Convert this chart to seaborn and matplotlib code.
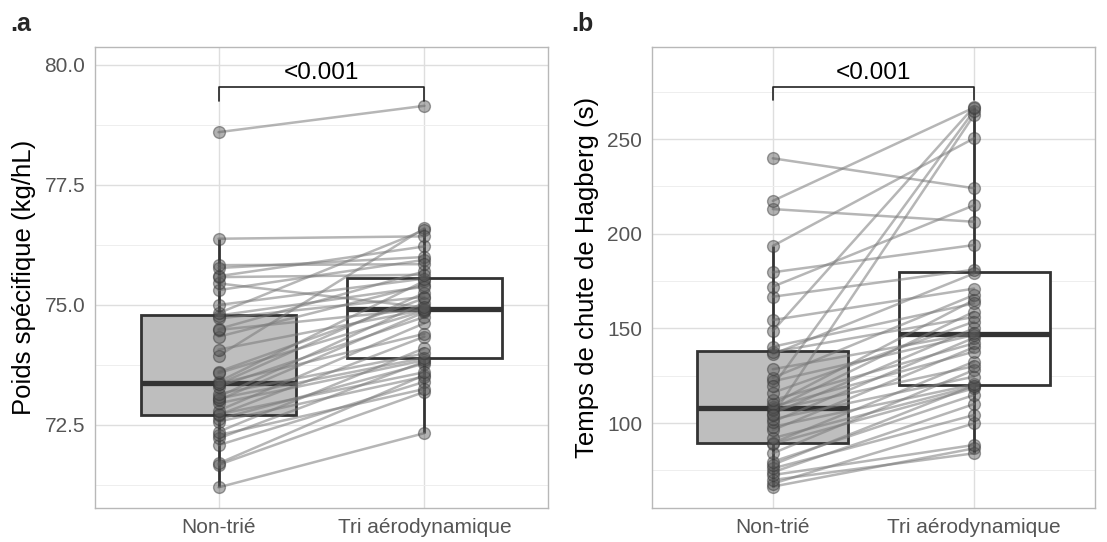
import numpy as np
import pandas as pd
import matplotlib
matplotlib.use("Agg")
import matplotlib.pyplot as plt
from matplotlib.ticker import FixedLocator, FormatStrFormatter
import seaborn as sns

# ---------------- data ----------------
categories = ["Non-trié", "Tri aérodynamique"]

# Panel a : Poids spécifique (kg/hL), paired samples
poids_non_trie = [71.20, 71.67, 71.70, 72.08, 72.22, 72.29, 72.36, 72.57, 72.62, 72.71,
                  72.72, 72.80, 72.95, 73.02, 73.05, 73.09, 73.15, 73.30, 73.35, 73.36,
                  73.40, 73.58, 73.61, 73.94, 74.07, 74.34, 74.48, 74.50, 74.72, 74.78,
                  74.83, 75.00, 75.31, 75.45, 75.58, 75.60, 75.77, 75.83, 76.38, 78.60]
poids_tri = [72.33, 73.19, 73.54, 73.40, 73.82, 73.25, 74.10, 73.51, 73.78, 74.34,
             73.60, 74.62, 73.85, 74.85, 73.90, 75.05, 73.99, 74.75, 75.25, 74.40,
             75.50, 74.88, 75.14, 76.60, 74.90, 75.42, 74.92, 75.70, 75.17, 75.38,
             76.56, 75.55, 75.94, 74.95, 75.63, 76.22, 76.00, 75.85, 76.43, 79.15]

# Panel b : Temps de chute de Hagberg (s), paired samples
hagberg_non_trie = [66.4, 68.0, 69.9, 72.5, 74.0, 76.0, 78.0, 79.6, 84.0, 89.0,
                    89.5, 92.0, 96.3, 98.0, 100.7, 102.0, 105.0, 107.0, 107.5, 108.6,
                    110.0, 112.1, 116.0, 122.0, 123.9, 128.4, 136.3, 137.5, 140.3, 154.4,
                    166.7, 104.2, 119.5, 148.6, 172.0, 179.6, 193.5, 213.0, 217.3, 239.8]
hagberg_tri = [86.6, 99.8, 84.0, 88.4, 110.0, 104.2, 119.8, 114.8, 128.0, 118.3,
               132.4, 119.5, 140.0, 120.4, 145.0, 124.5, 150.0, 130.0, 158.8, 137.7,
               165.0, 142.1, 153.5, 146.5, 167.6, 147.5, 179.0, 156.0, 163.2, 171.0,
               181.0, 262.7, 265.0, 267.0, 215.0, 194.0, 250.4, 206.3, 266.6, 224.0]

p_label = "<0.001"
ylabels = ["Poids spécifique (kg/hL)", "Temps de chute de Hagberg (s)"]
panel_tags = [".a", ".b"]


def long_df(before, after):
    n = len(before)
    df = pd.DataFrame({
        "id": list(range(n)) * 2,
        "groupe": [categories[0]] * n + [categories[1]] * n,
        "valeur": list(before) + list(after),
    })
    df["pos"] = df["groupe"].map({c: i for i, c in enumerate(categories)})
    return df


df_a = long_df(poids_non_trie, poids_tri)
df_b = long_df(hagberg_non_trie, hagberg_tri)

# ---------------- style ----------------
sns.set_theme(style="whitegrid")
plt.rcParams["font.family"] = ["Liberation Sans", "DejaVu Sans"]

fig = plt.figure(figsize=(11.07, 5.42), dpi=100)
ax_a = fig.add_axes([0.0858, 0.0627, 0.4092, 0.8506])
ax_b = fig.add_axes([0.589, 0.0627, 0.400, 0.8506])

box_palette = {categories[0]: "#bebebe", categories[1]: "#ffffff"}
edge = "#333333"


def draw_panel(ax, df, ylim, major, minor, fmt, bracket, ylabel, tag, tagx):
    sns.boxplot(data=df, x="groupe", y="valeur", hue="groupe", order=categories,
                hue_order=categories, palette=box_palette, width=0.75,
                linecolor=edge, linewidth=2.0, showfliers=False, showcaps=False,
                medianprops={"linewidth": 3.8, "color": edge},
                whiskerprops={"linewidth": 2.0, "color": edge},
                legend=False, ax=ax, zorder=2)
    sns.lineplot(data=df, x="pos", y="valeur", units="id", estimator=None,
                 sort=False, color="#7a7a7a", alpha=0.55, linewidth=1.8,
                 legend=False, ax=ax, zorder=3)
    sns.stripplot(data=df, x="groupe", y="valeur", order=categories, jitter=False,
                  color="#555555", alpha=0.45, size=8.5, linewidth=1.0,
                  edgecolor="#333333", ax=ax, zorder=4)

    ax.set_xlim(-0.6, 1.6)
    ax.set_ylim(*ylim)
    ax.yaxis.set_major_locator(FixedLocator(major))
    ax.yaxis.set_minor_locator(FixedLocator(minor))
    ax.yaxis.set_major_formatter(FormatStrFormatter(fmt))
    ax.set_xticks(range(len(categories)))
    ax.set_xticklabels(categories)

    ax.grid(True, which="major", color="#dedede", linewidth=1.0)
    ax.grid(True, which="minor", axis="y", color="#eeeeee", linewidth=0.7)
    ax.set_axisbelow(True)
    for s in ax.spines.values():
        s.set_color("#b8b8b8")
        s.set_linewidth(1.0)
    ax.tick_params(axis="both", which="major", length=4, width=0.8, color="#b8b8b8",
                   labelsize=15, labelcolor="#555555", pad=3)
    ax.tick_params(axis="y", which="minor", length=0)
    ax.set_xlabel("")
    ax.set_ylabel(ylabel, fontsize=18.5, color="black", labelpad=6)

    # significance bracket
    top, tick_end, text_y = bracket
    ax.plot([0, 0, 1, 1], [tick_end, top, top, tick_end], color="#222222",
            linewidth=1.2, zorder=5)
    ax.text(0.5, text_y, p_label, ha="center", va="bottom", fontsize=17.5,
            color="black")

    fig.text(tagx, 0.955, tag, fontsize=18, fontweight="bold", ha="left",
             va="center")


draw_panel(ax_a, df_a, (70.77, 80.375), [72.5, 75.0, 77.5, 80.0],
           [71.25, 73.75, 76.25, 78.75], "%.1f", (79.55, 79.25, 79.6),
           ylabels[0], panel_tags[0], 0.009)
draw_panel(ax_b, df_b, (55.1, 298.6), [100, 150, 200, 250],
           [75, 125, 175, 225, 275], "%d", (277.5, 270.5, 279.0),
           ylabels[1], panel_tags[1], 0.516)

fig.savefig("out.png", dpi=100)
